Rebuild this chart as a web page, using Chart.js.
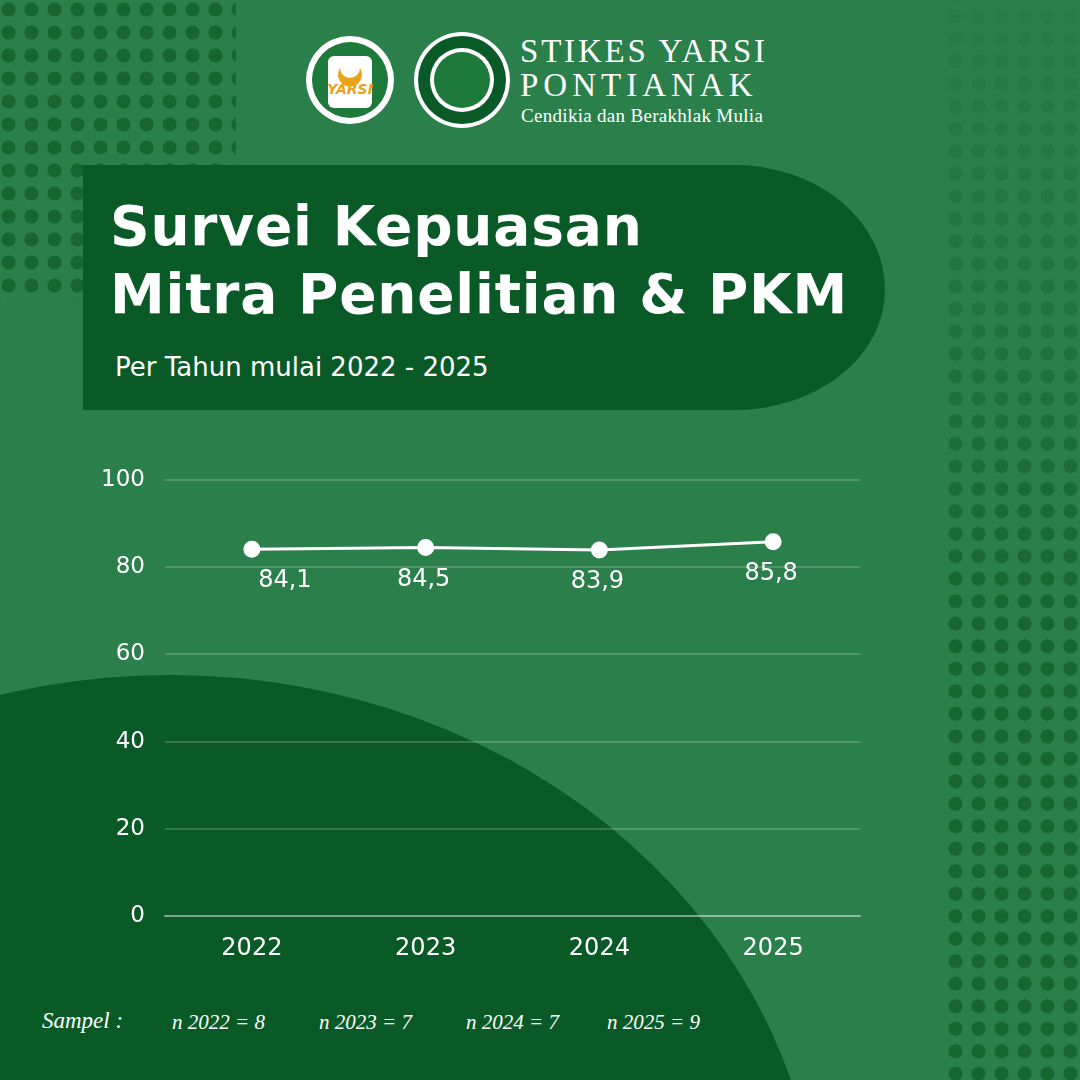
<!DOCTYPE html>
<html><head><meta charset="utf-8">
<script src="https://cdn.jsdelivr.net/npm/chart.js@4"></script>
<style>
body{margin:0;width:1080px;height:1080px;overflow:hidden;background:#2b7f4b;font-family:"DejaVu Sans",Arial,sans-serif;position:relative}
.abs{position:absolute}
.dots1{left:0;top:0;width:236px;height:302px;background:radial-gradient(circle,#17652f 6.5px,transparent 7.5px) 0 0/23px 23px;background-position:-3px -2px}
.dots2{left:940px;top:0;width:140px;height:1080px;background:radial-gradient(circle,#17652f 6.5px,transparent 7.5px) 0 0/23px 22.5px;background-position:4px 5px;-webkit-mask-image:linear-gradient(to bottom,rgba(0,0,0,0.1) 0%,rgba(0,0,0,0.5) 30%,#000 60%)}
.panel{left:83px;top:165px;width:802px;height:245px;background:#0a5a28;border-radius:0 150px 150px 0 / 0 125px 120px 0}
h1{margin:0;position:absolute;left:110px;top:192px;color:#fff;font:bold 55px "DejaVu Sans",Arial,sans-serif;line-height:68px;letter-spacing:0.8px}
.sub{left:115px;top:352px;color:#fff;font-size:26px}
.serif{font-family:"Liberation Serif","DejaVu Serif",serif;color:#fff}
</style></head><body>
<svg class="abs" style="left:0;top:0" width="1080" height="1080">
<ellipse cx="170" cy="1250" rx="650" ry="575" fill="#0a5a28"/>
</svg>
<div class="abs dots1"></div>
<div class="abs dots2"></div>
<div class="abs panel"></div>
<h1>Survei Kepuasan<br>Mitra Penelitian &amp; PKM</h1>
<div class="abs sub">Per Tahun mulai 2022 - 2025</div>
<svg class="abs" style="left:300px;top:28px" width="220" height="110">
<circle cx="50" cy="52" r="44" fill="#fff"/><circle cx="50" cy="52" r="38" fill="#1d7a3a"/>
<rect x="28" y="28" width="44" height="52" rx="6" fill="#fff"/>
<path d="M40 40 a12 12 0 1 0 20 0 a10 10 0 1 1 -20 0z" fill="#e8a317"/>
<text x="50" y="66" font-size="14" font-style="italic" text-anchor="middle" fill="#e8a317" font-weight="bold">YARSI</text>
<circle cx="162" cy="52" r="48" fill="#fff"/><circle cx="162" cy="52" r="44" fill="#0a5a28"/>
<circle cx="162" cy="52" r="32" fill="#fff"/><circle cx="162" cy="52" r="28" fill="#1d7a3a"/>
<path d="M148 50 a14 14 0 1 0 28 0 a12 12 0 1 1 -28 0z" fill="#e8c317"/>
</svg>
<div class="abs serif" style="left:520px;top:33px;font-size:33px;letter-spacing:2.8px">STIKES YARSI</div>
<div class="abs serif" style="left:520px;top:67px;font-size:33px;letter-spacing:5px">PONTIANAK</div>
<div class="abs serif" style="left:521px;top:105px;font-size:19px;letter-spacing:0.3px">Cendikia dan Berakhlak Mulia</div>
<div class="abs" style="left:60px;top:446px;width:810px;height:527px"><canvas id="c"></canvas></div>
<div class="abs serif" style="left:42px;top:1008px;font-size:23px;font-style:italic">Sampel :</div>
<div class="abs serif" style="left:172px;top:1010px;font-size:21px;font-style:italic">n 2022 = 8</div>
<div class="abs serif" style="left:319px;top:1010px;font-size:21px;font-style:italic">n 2023 = 7</div>
<div class="abs serif" style="left:466px;top:1010px;font-size:21px;font-style:italic">n 2024 = 7</div>
<div class="abs serif" style="left:607px;top:1010px;font-size:21px;font-style:italic">n 2025 = 9</div>
<script>
const years = ['2022', '2023', '2024', '2025'];
const scores = [84.1, 84.5, 83.9, 85.8];
const yTicks = [0, 20, 40, 60, 80, 100];

const valueLabels = {
    id: 'valueLabels',
    afterDatasetsDraw(chart) {
        const ctx = chart.ctx;
        ctx.save();
        ctx.fillStyle = '#fff';
        ctx.font = '24px "DejaVu Sans", Arial, sans-serif';
        ctx.textAlign = 'center';
        ctx.textBaseline = 'middle';
        chart.getDatasetMeta(0).data.forEach((pt, i) => {
            ctx.fillText(scores[i].toFixed(1).replace('.', ','), pt.x + (i === 0 ? 33 : -2), pt.y + 32);
        });
        ctx.restore();
    }
};

new Chart(document.getElementById('c'), {
    type: 'line',
    data: {
        labels: years,
        datasets: [{
            data: scores,
            borderColor: '#fff',
            borderWidth: 3,
            pointBackgroundColor: '#fff',
            pointBorderColor: '#fff',
            pointRadius: 7,
            tension: 0
        }]
    },
    options: {
        responsive: true,
        maintainAspectRatio: false,
        animation: false,
        layout: { padding: { top: 10, right: 0 } },
        plugins: { legend: { display: false }, tooltip: { enabled: false } },
        scales: {
            x: {
                offset: true,
                grid: { display: false },
                border: { color: 'rgba(255,255,255,0.35)', width: 2 },
                ticks: { color: '#fff', font: { size: 24, family: '"DejaVu Sans"' }, padding: 10 }
            },
            y: {
                min: 0, max: 100,
                afterBuildTicks: a => { a.ticks = yTicks.map(v => ({ value: v })); },
                afterFit: a => { a.width = 105; },
                grid: { color: 'rgba(255,255,255,0.18)', lineWidth: 2, drawTicks: false },
                border: { display: false },
                ticks: { color: '#fff', font: { size: 23, family: '"DejaVu Sans"' }, padding: 20 }
            }
        }
    },
    plugins: [valueLabels]
});
</script>
</body></html>
